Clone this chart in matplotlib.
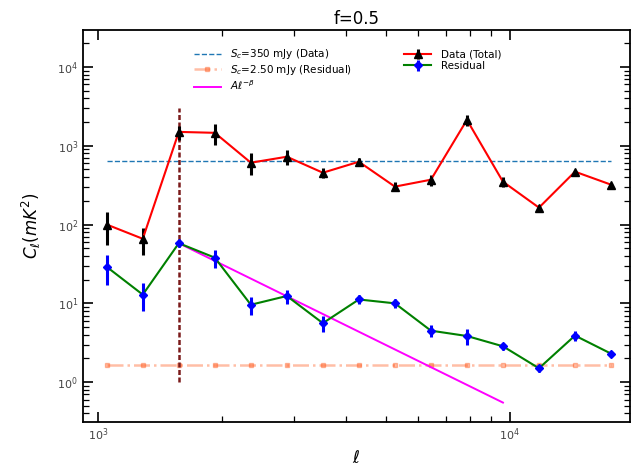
import matplotlib
matplotlib.use("Agg")
import matplotlib.pyplot as plt
from matplotlib.ticker import LogLocator, NullFormatter


# multipole bins
ell = [1051, 1285, 1572, 1922, 2351, 2875, 3516, 4300, 5259, 6432,
       7866, 9620, 11765, 14389, 17597]

# total (data) power spectrum
cl_total = [100, 66, 1500, 1460, 610, 726, 455, 627, 303, 371,
            2130, 350, 164, 469, 321]
err_total = [45, 25, 300, 430, 190, 160, 60, 80, 40, 60,
             350, 50, 15, 30, 20]

# residual power spectrum
cl_resid = [29, 12.9, 58, 38, 9.6, 12.4, 5.6, 11.2, 10.0, 4.5,
            3.85, 2.85, 1.5, 3.9, 2.3]
err_resid = [12, 5, 6, 10, 2.5, 2.5, 1.3, 1.5, 1.2, 0.8,
             0.9, 0.3, 0.15, 0.6, 0.2]

# point-source confusion levels
sc_data_level = 640
sc_resid_level = 1.63

# power-law fit A*l^-beta, endpoints
fit_ell = [1572, 9620]
fit_cl = [58, 0.55]

# vertical marker
ell_cut = 1572
cut_range = [1.0, 3000]


def main() -> None:
    fig = plt.figure(figsize=(6.31, 4.67), dpi=100)
    ax = fig.add_axes([0.1315, 0.0964, 0.8665, 0.8404])

    ax.set_xscale("log")
    ax.set_yscale("log")

    ax.plot(ell, [sc_data_level] * len(ell), ls="--", color="tab:blue",
            lw=1.0, label=r"$S_c$=350 mJy (Data)", zorder=2)
    ax.plot(ell, [sc_resid_level] * len(ell), ls="-.", color="orangered",
            marker="s", ms=2.5, lw=1.8, alpha=0.35,
            label=r"$S_c$=2.50 mJy (Residual)", zorder=2)
    ax.plot(fit_ell, fit_cl, color="magenta", lw=1.4,
            label=r"$A\ell^{-\beta}$", zorder=3)

    ax.errorbar(ell, cl_total, yerr=err_total, fmt="-^", color="red", lw=1.5,
                mfc="black", mec="black", ms=6, ecolor="black", elinewidth=2.2,
                capsize=0, label="Data (Total)", zorder=4)
    ax.errorbar(ell, cl_resid, yerr=err_resid, fmt="-D", color="green", lw=1.5,
                mfc="blue", mec="blue", ms=4.5, ecolor="blue", elinewidth=2.2,
                capsize=0, label="Residual", zorder=4)

    ax.plot([ell_cut, ell_cut], cut_range, color="#7a1a1a", lw=1.8,
            ls=(0, (2, 1)), zorder=3)

    ax.set_xlim(920, 19540)
    ax.set_ylim(0.312, 29900)

    ax.xaxis.set_major_locator(LogLocator(base=10, numticks=10))
    ax.xaxis.set_minor_locator(LogLocator(base=10, subs=range(2, 10), numticks=20))
    ax.xaxis.set_minor_formatter(NullFormatter())
    ax.yaxis.set_major_locator(LogLocator(base=10, numticks=10))
    ax.yaxis.set_minor_locator(LogLocator(base=10, subs=range(2, 10), numticks=20))
    ax.yaxis.set_minor_formatter(NullFormatter())

    ax.tick_params(which="both", direction="in", top=True, right=True,
                   labelsize=8, labelcolor="#444444")
    ax.tick_params(which="major", length=7, width=1.2)
    ax.tick_params(which="minor", length=4, width=0.9)
    for sp in ax.spines.values():
        sp.set_linewidth(1.3)

    ax.set_title("f=0.5", fontsize=12, pad=4)
    ax.set_xlabel(r"$\ell$", fontsize=12)
    ax.set_ylabel(r"$C_\ell (mK^2)$", fontsize=12, labelpad=10)

    ax.legend(loc="upper left", ncol=2, frameon=False, fontsize=7.5,
              bbox_to_anchor=(0.195, 0.965), columnspacing=5.0,
              handlelength=2.6, handletextpad=0.9, labelspacing=0.15,
              borderaxespad=0.0)

    fig.savefig("out.png", dpi=100)
    plt.close(fig)


if __name__ == "__main__":
    main()
